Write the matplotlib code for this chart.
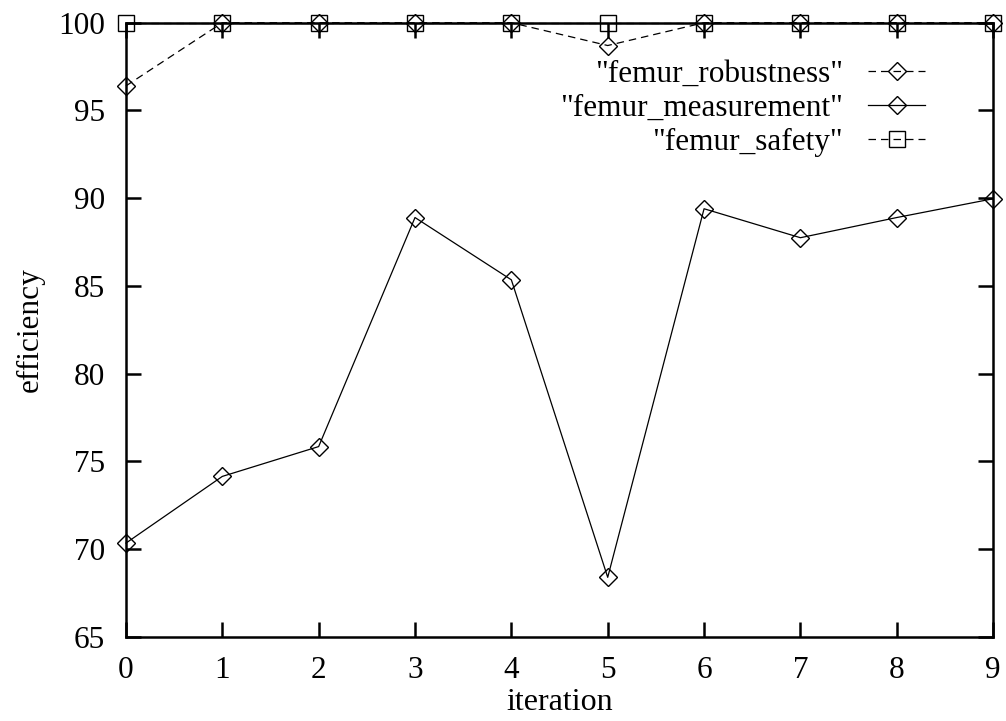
import matplotlib
matplotlib.use('Agg')
import matplotlib.pyplot as plt
import numpy as np

plt.rcParams['font.family'] = ['Liberation Serif', 'DejaVu Serif']
plt.rcParams['font.size'] = 22.5

# data
iteration = [0, 1, 2, 3, 4, 5, 6, 7, 8, 9]
femur_robustness = [96.4, 100, 100, 100, 100, 98.7, 100, 100, 100, 100]
femur_measurement = [70.35, 74.15, 75.85, 88.9, 85.35, 68.4, 89.4, 87.75, 88.9, 89.97]
femur_safety = [100, 100, 100, 100, 100, 100, 100, 100, 100, 100]

fig = plt.figure(figsize=(10.06, 7.21), dpi=100)
ax = fig.add_axes([0.1252, 0.1165, 0.862, 0.852])

style = dict(color='black', lw=0.9, mfc='none', mec='black',
             mew=1.0, clip_on=False)
ax.plot(iteration, femur_robustness, '--', marker='D', ms=9.0, dashes=(6, 4),
        label='"femur_robustness"', zorder=4, **style)
ax.plot(iteration, femur_measurement, '-', marker='D', ms=9.0,
        label='"femur_measurement"', zorder=4, **style)
ax.plot(iteration, femur_safety, '--', marker='s', ms=12, dashes=(6, 4),
        label='"femur_safety"', zorder=4, **style)

ax.set_xlim(0, 9)
ax.set_ylim(65, 100)
ax.set_xticks(np.arange(0, 10, 1))
ax.set_yticks(np.arange(65, 101, 5))
ax.tick_params(direction='in', length=11, width=1.8, top=True, right=True,
               labelsize=22.5)
ax.tick_params(axis='y', pad=15)
ax.tick_params(axis='x', pad=14)
for s in ax.spines.values():
    s.set_linewidth(1.8)

ax.set_xlabel('iteration', fontsize=23, labelpad=2)
ax.set_ylabel('efficiency', fontsize=22.5, labelpad=10)

ax.legend(loc='upper right', bbox_to_anchor=(0.922, 0.94),
          frameon=False, markerfirst=False, handlelength=1.85,
          handletextpad=0.8, labelspacing=0.17, borderpad=0,
          borderaxespad=0, fontsize=22.5)

fig.savefig('out.png', dpi=100)
